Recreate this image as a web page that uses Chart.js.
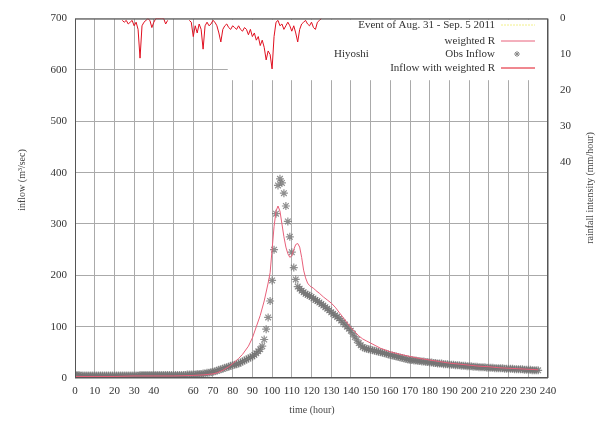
<!DOCTYPE html>
<html>
<head>
<meta charset="utf-8">
<script src="https://cdn.jsdelivr.net/npm/chart.js@4.4.1/dist/chart.umd.min.js"></script>
<style>
  html, body { margin: 0; padding: 0; background: #fff; }
</style>
</head>
<body>
<canvas id="myChart" width="603" height="421"></canvas>
<script>
// observed inflow at Hiyoshi, one value per hour from hour 0
const obsInflow = [
  6, 6, 6, 5, 5, 5, 5, 5, 5, 5,
  5, 5, 5, 5, 5, 5, 5, 5, 5, 5,
  5, 5, 5, 5, 5, 5, 5, 5, 5, 5,
  5, 5, 5, 6, 6, 6, 6, 6, 6, 6,
  6, 6, 6, 6, 6, 6, 6, 6, 6, 6,
  6, 6, 6, 6, 6, 6, 6, 7, 7, 7,
  7, 7, 8, 8, 8, 9, 9, 10, 10, 11,
  12, 13, 14, 16, 17, 18, 20, 21, 22, 24,
  25, 26, 27, 28, 30, 32, 34, 36, 38, 40,
  42, 45, 48, 52, 56, 62, 75, 95, 118, 150,
  190, 250, 320, 375, 388, 380, 360, 335, 305, 275,
  245, 215, 192, 178, 174, 170, 167, 164, 162, 160,
  158, 155, 152, 150, 147, 144, 141, 138, 135, 132,
  128, 125, 122, 119, 116, 112, 108, 104, 100, 96,
  92, 86, 80, 74, 68, 64, 60, 58, 57, 56,
  55, 54, 53, 52, 51, 50, 49, 48, 47, 46,
  45, 44, 43, 42, 41, 40, 39, 38, 37, 36,
  35, 35, 34, 34, 33, 33, 32, 32, 31, 31,
  30, 30, 29, 29, 28, 28, 28, 27, 27, 27,
  26, 26, 26, 25, 25, 25, 24, 24, 24, 23,
  23, 23, 22, 22, 22, 21, 21, 21, 21, 20,
  20, 20, 20, 19, 19, 19, 19, 19, 18, 18,
  18, 18, 18, 17, 17, 17, 17, 17, 16, 16,
  16, 16, 15, 15, 15, 15
];

// simulated inflow with weighted R
const modelHours = [0, 10, 20, 30, 40, 50, 60, 65, 70, 72, 75, 78, 80, 83, 85, 88, 90, 92, 94, 96,
  98, 99, 100, 101, 102, 103, 104, 105, 106, 107, 108, 109, 110, 111, 112, 113, 114, 115, 116, 117,
  118, 119, 120, 121, 122, 124, 126, 128, 130, 132, 134, 136, 138, 140, 142, 144, 146, 148, 150, 155,
  160, 165, 170, 175, 180, 185, 190, 195, 200, 205, 210, 215, 220, 225, 230, 235];
const modelInflow = [3, 3, 3, 4, 4, 4, 5, 6, 8, 10, 15, 22, 28, 38, 46, 62, 78, 100, 122, 150,
  185, 205, 250, 295, 325, 335, 325, 300, 275, 255, 242, 235, 238, 250, 260, 262, 255, 235, 210, 195,
  185, 180, 177, 175, 171, 165, 158, 152, 146, 138, 128, 118, 108, 98, 90, 82, 76, 72, 68, 58,
  51, 46, 42, 38, 35, 32, 29, 27, 25, 23, 22, 20, 19, 18, 17, 16];

// weighted rainfall (mm/hour), hours 24..125, null = no rain
const rainStart = 24;
const rainMm = [
  0.5, 1, 0.5, 1.5, 1, 0.5, 2, 1, 3, 11,
  2, 1, 0.5, 0, 0.5, 2.5, 1, 0, 0, 0,
  0, 0, 1.5, 0.5, null, null, null, null, null, null,
  null, null, null, null, 0.5, 1, 5, 2, 4, 1.5,
  3, 8.5, 2, 1, 2, 1.5, 0.5, 1, 2, 4,
  6.5, 3, 2, 1.5, 2.5, 3, 2, 2.5, 3, 2,
  3, 3.5, 2.5, 3, 4.5, 3, 5, 4, 6, 5,
  7.5, 6, 8, 11.5, 9, 10, 14, 5, 1, 0.5,
  2, 1.5, 3, 2, 1, 2, 3.5, 2, 4, 6.5,
  3, 1.5, 1, 0.5, 1.5, 2, 1, 2.5, 3, 1,
  0.5, 0
];

const xTicksHidden = [50];
const rainTickMax = 40;

const fontFamily = "'Liberation Serif', 'DejaVu Serif', serif";

const keyPlugin = {
  id: 'keyPlugin',
  beforeDatasetsDraw(chart) {
    const { ctx, chartArea, scales } = chart;
    const left = scales.x.getPixelForValue(77.5);
    const bottom = scales.y.getPixelForValue(582);
    ctx.save();
    ctx.fillStyle = '#fff';
    ctx.fillRect(left, chartArea.top + 1, chartArea.right - left - 1, bottom - chartArea.top);
    ctx.restore();
  },
  afterDatasetsDraw(chart) {
    const { ctx, chartArea } = chart;
    const tx = 495;
    ctx.save();
    ctx.font = '11px ' + fontFamily;
    ctx.fillStyle = '#333';
    ctx.textBaseline = 'middle';
    ctx.textAlign = 'right';
    ctx.fillText('Event of Aug. 31 - Sep. 5 2011', tx, 25);
    ctx.fillText('weighted R', tx, 41);
    ctx.fillText('Obs Inflow', tx, 54);
    ctx.fillText('Inflow with weighted R', tx, 68);
    ctx.textAlign = 'left';
    ctx.fillText('Hiyoshi', 334, 54);

    ctx.lineWidth = 1;
    ctx.strokeStyle = '#f2f08a';
    ctx.setLineDash([2, 1]);
    ctx.beginPath(); ctx.moveTo(501, 25); ctx.lineTo(535, 25); ctx.stroke();
    ctx.setLineDash([]);
    ctx.strokeStyle = '#e8607a';
    ctx.beginPath(); ctx.moveTo(501, 41); ctx.lineTo(535, 41); ctx.stroke();
    ctx.strokeStyle = '#e01020';
    ctx.beginPath(); ctx.moveTo(501, 68); ctx.lineTo(535, 68); ctx.stroke();
    // star marker
    ctx.strokeStyle = '#888';
    ctx.beginPath();
    ctx.moveTo(514, 54); ctx.lineTo(520, 54);
    ctx.moveTo(517, 51); ctx.lineTo(517, 57);
    ctx.moveTo(515, 52); ctx.lineTo(519, 56);
    ctx.moveTo(519, 52); ctx.lineTo(515, 56);
    ctx.stroke();

    // frame
    ctx.strokeStyle = '#555';
    ctx.strokeRect(chartArea.left + 0.5, chartArea.top + 0.5,
      chartArea.right - chartArea.left - 1, chartArea.bottom - chartArea.top - 1);

    // axis titles
    ctx.fillStyle = '#444';
    ctx.font = '10px ' + fontFamily;
    ctx.textAlign = 'center';
    ctx.fillText('time (hour)', 312, 410);
    ctx.save();
    ctx.translate(22, 180);
    ctx.rotate(-Math.PI / 2);
    ctx.fillText('inflow (m\u00b3/sec)', 0, 0);
    ctx.restore();
    ctx.save();
    ctx.translate(590, 188);
    ctx.rotate(-Math.PI / 2);
    ctx.fillText('rainfall intensity (mm/hour)', 0, 0);
    ctx.restore();
    ctx.restore();
  }
};

const ctx = document.getElementById('myChart').getContext('2d');

let myChart = new Chart(ctx, {
  type: 'line',
  data: {
    datasets: [
      {
        label: 'Inflow with weighted R',
        data: modelHours.map((h, i) => ({ x: h, y: modelInflow[i] })),
        borderColor: '#e8607a',
        borderWidth: 1,
        pointRadius: 0,
        tension: 0,
        yAxisID: 'y',
        order: 0,
      },
      {
        label: 'Obs Inflow',
        data: obsInflow.map((v, i) => ({ x: i, y: v })),
        showLine: false,
        pointStyle: 'star',
        pointRadius: 4,
        borderColor: 'rgba(115,115,115,0.8)',
        borderWidth: 1.2,
        yAxisID: 'y',
        order: 1,
      },
      {
        label: 'weighted R',
        data: rainMm.map((v, i) => ({ x: rainStart + i, y: v })),
        borderColor: '#e01020',
        borderWidth: 1,
        pointRadius: 0,
        tension: 0,
        spanGaps: false,
        yAxisID: 'y2',
        order: 2,
      },
    ],
  },
  options: {
    responsive: false,
    animation: false,
    layout: { padding: { top: 16, left: 0, right: 0, bottom: 0 } },
    plugins: {
      legend: { display: false },
      tooltip: { enabled: false },
    },
    scales: {
      x: {
        type: 'linear',
        min: 0,
        max: 240,
        afterFit: (scale) => { scale.height = 43; },
        ticks: {
          stepSize: 10,
          autoSkip: false,
          maxRotation: 0,
          padding: 7,
          color: '#333',
          font: { family: fontFamily, size: 11 },
          callback: (v) => (xTicksHidden.includes(v) ? '' : v),
        },
        grid: { color: '#aaa', drawTicks: false },
        border: { display: false },
      },
      y: {
        position: 'left',
        min: 0,
        max: 700,
        afterFit: (scale) => { scale.width = 75; },
        ticks: {
          stepSize: 100,
          padding: 8,
          color: '#333',
          font: { family: fontFamily, size: 11 },
        },
        grid: { color: '#aaa', drawTicks: false },
        border: { display: false },
      },
      y2: {
        position: 'right',
        reverse: true,
        min: 0,
        max: 100,
        afterFit: (scale) => { scale.width = 55; },
        ticks: {
          stepSize: 10,
          padding: 12,
          color: '#333',
          font: { family: fontFamily, size: 11 },
          callback: (v) => (v <= rainTickMax ? v : ''),
        },
        grid: { drawOnChartArea: false, drawTicks: false },
        border: { display: false },
      },
    },
  },
  plugins: [keyPlugin],
});
</script>
</body>
</html>
